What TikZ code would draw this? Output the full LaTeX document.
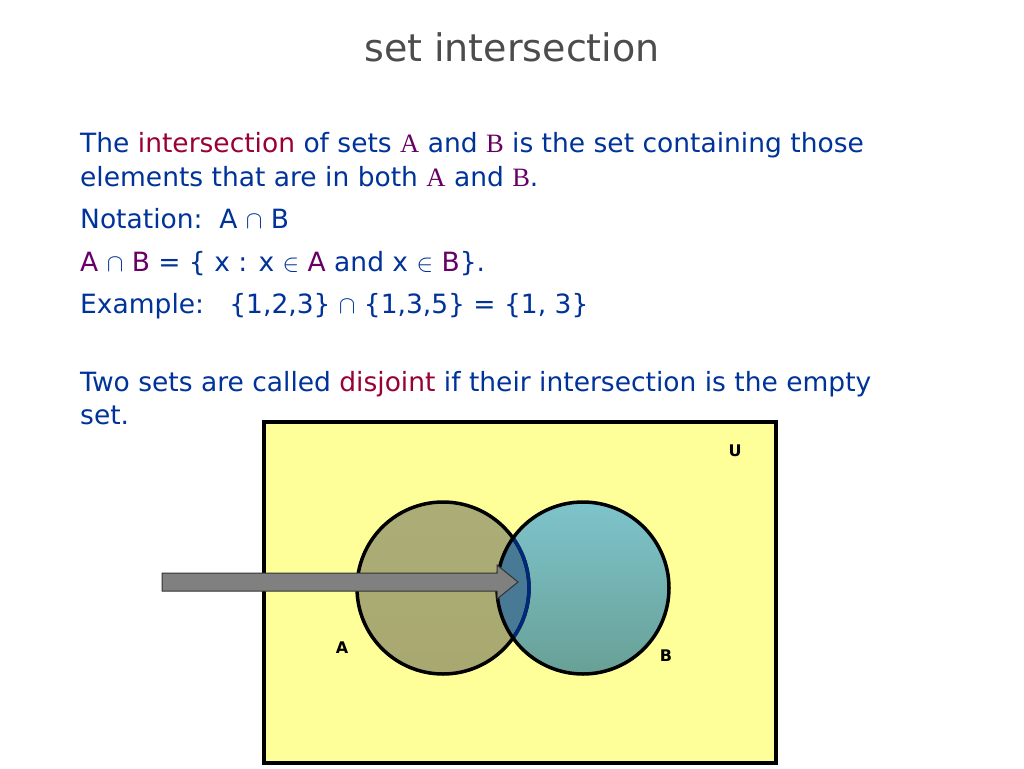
\documentclass[tikz,border=0pt]{standalone}
\usepackage{fontspec}
\setmainfont{DejaVu Sans}
\newfontfamily\serifA{Liberation Serif}
\begin{document}
\begin{tikzpicture}[x=1pt,y=-1pt,
  txt/.style={anchor=base west,inner sep=0,text=navy,font=\fontsize{26.5}{30}\selectfont},
  lbl/.style={font=\bfseries\fontsize{16}{18}\selectfont},
  set/.style={circle,line width=3.5pt,draw=black}]
\definecolor{navy}{RGB}{0,51,153}
\definecolor{hl}{RGB}{153,0,51}
\definecolor{pur}{RGB}{102,0,102}
\definecolor{ylw}{RGB}{255,255,153}
\definecolor{olv}{RGB}{168,168,112}
\definecolor{tealA}{RGB}{126,196,204}
\definecolor{tealB}{RGB}{104,160,150}
\definecolor{inter}{RGB}{72,122,150}
\useasboundingbox (0,0) rectangle (1024,768);
\fill[white] (0,0) rectangle (1024,768);
\node[anchor=base,text=black!70,font=\fontsize{38}{44}\selectfont] (title) at (512,62) {set intersection};
\newcommand{\sA}{{\serifA\color{pur}A}}
\newcommand{\sB}{{\serifA\color{pur}B}}
\node[txt] (l1) at (80,152) {The {\color{hl}intersection} of sets \sA{} and \sB{} is the set containing those};
\node[txt] (l2) at (80,186) {elements that are in both \sA{} and \sB.};
\node[txt] (l3) at (80,228) {Notation:\ \ A $\cap$ B};
\node[txt] (l4) at (80,271) {{\color{pur}A} $\cap$ {\color{pur}B} = \{ x : x $\in$ {\color{pur}A} and x $\in$ {\color{pur}B}\}.};
\node[txt] (l5) at (80,313) {Example:\ \ \ \{1,2,3\} $\cap$ \{1,3,5\} = \{1, 3\}};
\node[txt] (l6) at (80,391) {Two sets are called {\color{hl}disjoint} if their intersection is the empty};
\node[txt] (l7) at (80,424) {set.};
\node[draw=black,line width=4pt,fill=ylw,minimum width=512,minimum height=341,inner sep=0] (U) at (520,592) {};
\node[lbl] (uL) at (735,451) {U};
\shade[top color=olv!95!white,bottom color=olv] (443,588) circle (86);
\shade[top color=tealA,bottom color=tealB] (583,588) circle (86);
\begin{scope}
\clip (583,588) circle (86);
\fill[inter] (443,588) circle (86);
\end{scope}
\node[set,minimum size=172] (A) at (443,588) {};
\node[set,minimum size=172] (B) at (583,588) {};
\begin{scope}
\clip (583,588) circle (84);
\draw[navy!80!black,line width=3.5pt] (443,588) circle (86);
\end{scope}
\node[lbl] (aL) at (342,648) {A};
\node[lbl] (bL) at (666,656) {B};
\fill[gray,draw=black!80,line width=1pt] (162,573) -- (497,573) -- (497,565) -- (518,582) -- (497,599) -- (497,591) -- (162,591) -- cycle;
\end{tikzpicture}
\end{document}
